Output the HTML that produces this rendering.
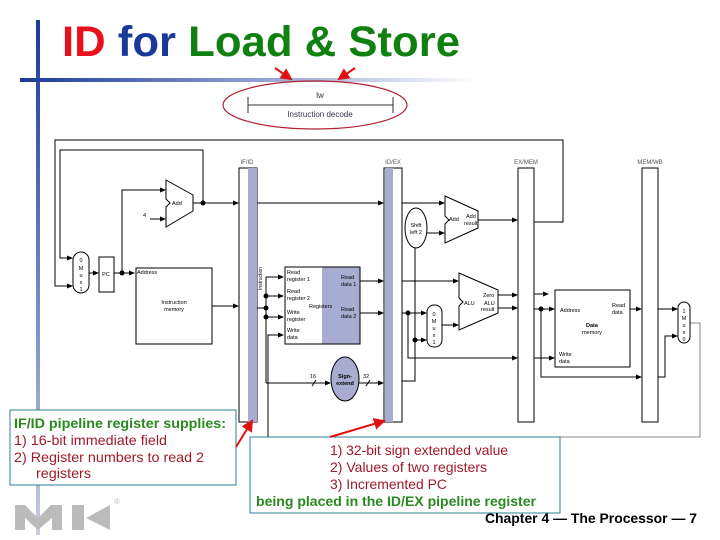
<!DOCTYPE html>
<html><head><meta charset="utf-8"><style>
body{margin:0;background:#fff}
svg{display:block}
.s{font-family:"Liberation Sans",sans-serif}
</style></head><body>
<svg width="720" height="540" viewBox="0 0 720 540" xmlns="http://www.w3.org/2000/svg" class="s">
<defs>
<linearGradient id="hg" x1="0" x2="1"><stop offset="0" stop-color="#1a3a9a"/><stop offset="1" stop-color="#fff"/></linearGradient>
<linearGradient id="vg" x1="0" x2="0" y1="0" y2="1"><stop offset="0" stop-color="#1a3a9a"/><stop offset="1" stop-color="#c8cce0"/></linearGradient>
<marker id="a" markerWidth="6" markerHeight="6" refX="5" refY="3" orient="auto"><path d="M0,0.5 L6,3 L0,5.5z" fill="#000"/></marker>
<marker id="r" markerWidth="6" markerHeight="6" refX="5" refY="3" orient="auto"><path d="M0,0 L6,3 L0,6z" fill="#e01010"/></marker>
</defs>
<rect x="36" y="20" width="4" height="515" fill="url(#vg)"/>
<rect x="20" y="78" width="460" height="4" fill="url(#hg)"/>
<text x="62" y="56" font-size="43" font-weight="bold" textLength="398" lengthAdjust="spacingAndGlyphs"><tspan fill="#e8101a">ID</tspan><tspan fill="#1a3a9a"> for </tspan><tspan fill="#108010">Load &amp; Store</tspan></text>
<ellipse cx="315" cy="105" rx="92" ry="24" fill="none" stroke="#b02030" stroke-width="1.2"/>
<line x1="248" y1="105" x2="393" y2="105" stroke="#333"/>
<line x1="248" y1="97" x2="248" y2="113" stroke="#333"/>
<line x1="393" y1="97" x2="393" y2="113" stroke="#333"/>
<text x="320" y="98" font-size="8" text-anchor="middle" fill="#333">lw</text>
<text x="320" y="117" font-size="8" text-anchor="middle" fill="#335">Instruction decode</text>
<line x1="275" y1="68" x2="291" y2="79" stroke="#e01010" stroke-width="2" marker-end="url(#r)"/>
<line x1="355" y1="68" x2="339" y2="79" stroke="#e01010" stroke-width="2" marker-end="url(#r)"/>

<g stroke="#000" stroke-width="1" fill="none">
<polyline points="534,222 563,222 563,140 55,140 55,286 72,286" marker-end="url(#a)"/>
<polyline points="203,203 203,150 60,150 60,258 72,258" marker-end="url(#a)"/>
<line x1="89" y1="273" x2="98" y2="273" marker-end="url(#a)"/>
<polyline points="114,273 134,273" marker-end="url(#a)"/>
<polyline points="122,273 122,190 165,190" marker-end="url(#a)"/>
<line x1="150" y1="219" x2="165" y2="219" marker-end="url(#a)"/>
<line x1="193" y1="203" x2="238" y2="203" marker-end="url(#a)"/>
<line x1="212" y1="306" x2="238" y2="306" marker-end="url(#a)"/>
<line x1="257" y1="203" x2="383" y2="203" marker-end="url(#a)"/>
<polyline points="257,308 266,308"/>
<line x1="266" y1="277" x2="266" y2="383"/>
<line x1="266" y1="277" x2="283" y2="277" marker-end="url(#a)"/>
<line x1="266" y1="296" x2="283" y2="296" marker-end="url(#a)"/>
<line x1="266" y1="317" x2="283" y2="317" marker-end="url(#a)"/>
<polyline points="268,437 268,335 283,335" marker-end="url(#a)"/>
<line x1="266" y1="383" x2="330" y2="383" marker-end="url(#a)"/>
<line x1="359" y1="383" x2="383" y2="383" marker-end="url(#a)"/>
<line x1="312" y1="386" x2="316" y2="380"/><line x1="366" y1="386" x2="370" y2="380"/>
<line x1="360" y1="281" x2="383" y2="281" marker-end="url(#a)"/>
<line x1="360" y1="313" x2="383" y2="313" marker-end="url(#a)"/>
<line x1="402" y1="203" x2="444" y2="203" marker-end="url(#a)"/>
<line x1="427" y1="233" x2="444" y2="233" marker-end="url(#a)"/>
<line x1="478" y1="220" x2="517" y2="220" marker-end="url(#a)"/>
<line x1="402" y1="281" x2="458" y2="281" marker-end="url(#a)"/>
<line x1="402" y1="313" x2="426" y2="313" marker-end="url(#a)"/>
<polyline points="408,313 408,358 517,358" marker-end="url(#a)"/>
<polyline points="402,381 415,381 415,248"/>
<line x1="415" y1="340" x2="426" y2="340" marker-end="url(#a)"/>
<line x1="442" y1="325" x2="458" y2="325" marker-end="url(#a)"/>
<line x1="498" y1="295" x2="517" y2="295" marker-end="url(#a)"/>
<line x1="498" y1="308" x2="517" y2="308" marker-end="url(#a)"/>
<line x1="534" y1="294" x2="548" y2="294" marker-end="url(#a)"/>
<line x1="534" y1="309" x2="554" y2="309" marker-end="url(#a)"/>
<polyline points="541,309 541,377 641,377" marker-end="url(#a)"/>
<line x1="534" y1="358" x2="554" y2="358" marker-end="url(#a)"/>
<line x1="630" y1="309" x2="641" y2="309" marker-end="url(#a)"/>
<line x1="658" y1="309" x2="677" y2="309" marker-end="url(#a)"/>
<polyline points="658,377 665,377 665,336 677,336" marker-end="url(#a)"/>
<polyline points="690,323 700,323 700,437 268,437" stroke="#888"/>
</g>
<g fill="#000">
<circle cx="203" cy="203" r="2.5"/><circle cx="122" cy="273" r="2.5"/>
<circle cx="266" cy="296" r="2.5"/><circle cx="266" cy="308" r="2.5"/><circle cx="266" cy="317" r="2.5"/>
<circle cx="408" cy="313" r="2.5"/><circle cx="415" cy="340" r="2.5"/><circle cx="541" cy="309" r="2.5"/>
</g>
<g stroke="#000" stroke-width="1">
<rect x="239" y="168" width="18" height="254" fill="#fff"/>
<rect x="248" y="168" width="9" height="254" fill="#a8acd0" stroke="none"/>
<rect x="384" y="168" width="18" height="254" fill="#fff"/>
<rect x="385" y="168" width="8" height="254" fill="#a8acd0" stroke="none"/>
<rect x="518" y="168" width="16" height="254" fill="#fff"/>
<rect x="642" y="168" width="16" height="254" fill="#fff"/>
</g>
<g font-size="6" fill="#555" text-anchor="middle">
<text x="247" y="164">IF/ID</text><text x="393" y="164">ID/EX</text><text x="526" y="164">EX/MEM</text><text x="650" y="164">MEM/WB</text>
</g>
<g stroke="#000" fill="#fff">
<path d="M166,180 L193,195 L193,211 L166,227 L166,207 L170,203 L166,199z"/>
<rect x="73" y="252" width="16" height="41" rx="8"/>
<rect x="99" y="257" width="15" height="35"/>
<rect x="136" y="268" width="76" height="76"/>
<rect x="285" y="267" width="75" height="77"/>
<path d="M445,196 L478,211 L478,228 L445,243 L445,224 L449,220 L445,216z"/>
<ellipse cx="416" cy="228" rx="11" ry="20"/>
<path d="M459,273 L498,290 L498,313 L459,330 L459,306 L463,302 L459,298z"/>
<rect x="427" y="305" width="15" height="42" rx="7"/>
<rect x="555" y="290" width="75" height="77"/>
<rect x="678" y="302" width="12" height="41" rx="6"/>
</g>
<rect x="322" y="267" width="38" height="77" fill="#a8acd0"/>
<rect x="285" y="267" width="75" height="77" fill="none" stroke="#000"/>
<ellipse cx="345" cy="379" rx="14" ry="22" fill="#a8acd0" stroke="#000"/>
<g font-size="5.5" fill="#000">
<text x="172" y="205">Add</text>
<text x="81" y="262" text-anchor="middle">0</text><text x="81" y="270" text-anchor="middle">M</text><text x="81" y="277" text-anchor="middle">u</text><text x="81" y="284" text-anchor="middle">x</text><text x="81" y="291" text-anchor="middle">1</text>
<text x="106" y="276" text-anchor="middle">PC</text>
<text x="143" y="217">4</text>
<text x="137" y="274">Address</text>
<text x="174" y="304" text-anchor="middle">Instruction</text><text x="174" y="311" text-anchor="middle">memory</text>
<text x="262" y="290" transform="rotate(-90 262 290)" font-size="5">Instruction</text>
<text x="287" y="274">Read</text><text x="287" y="281">register 1</text>
<text x="287" y="293">Read</text><text x="287" y="300">register 2</text>
<text x="287" y="314">Write</text><text x="287" y="321">register</text>
<text x="287" y="332">Write</text><text x="287" y="339">data</text>
<text x="309" y="308">Registers</text>
<text x="341" y="279">Read</text><text x="341" y="286">data 1</text>
<text x="341" y="311">Read</text><text x="341" y="318">data 2</text>
<text x="345" y="378" text-anchor="middle" font-weight="bold">Sign-</text><text x="345" y="385" text-anchor="middle" font-weight="bold">extend</text>
<text x="310" y="378">16</text><text x="363" y="378">32</text>
<text x="416" y="227" text-anchor="middle">Shift</text><text x="416" y="234" text-anchor="middle">left 2</text>
<text x="449" y="221">Add</text><text x="466" y="218">Add</text><text x="464" y="225">result</text>
<text x="464" y="305">ALU</text><text x="483" y="297">Zero</text><text x="484" y="305">ALU</text><text x="481" y="311">result</text>
<text x="434" y="316" text-anchor="middle">0</text><text x="434" y="323" text-anchor="middle">M</text><text x="434" y="330" text-anchor="middle">u</text><text x="434" y="337" text-anchor="middle">x</text><text x="434" y="344" text-anchor="middle">1</text>
<text x="560" y="312">Address</text><text x="612" y="307">Read</text><text x="612" y="314">data</text>
<text x="592" y="327" text-anchor="middle" font-weight="bold">Data</text><text x="592" y="334" text-anchor="middle">memory</text>
<text x="559" y="356">Write</text><text x="559" y="363">data</text>
<text x="684" y="313" text-anchor="middle">1</text><text x="684" y="320" text-anchor="middle">M</text><text x="684" y="327" text-anchor="middle">u</text><text x="684" y="334" text-anchor="middle">x</text><text x="684" y="341" text-anchor="middle">0</text>
</g>
<rect x="10" y="410" width="226" height="75" fill="#fff" stroke="#2e7f99"/>
<text x="14" y="428" font-size="14" font-weight="bold" fill="#2a8a20" textLength="212" lengthAdjust="spacingAndGlyphs">IF/ID pipeline register supplies:</text>
<g font-size="14" fill="#a01a2a">
<text x="14" y="445" textLength="153" lengthAdjust="spacingAndGlyphs">1) 16-bit immediate field</text>
<text x="14" y="462" textLength="190" lengthAdjust="spacingAndGlyphs">2) Register numbers to read 2</text>
<text x="36" y="478" textLength="55" lengthAdjust="spacingAndGlyphs">registers</text>
</g>
<rect x="250" y="437" width="310" height="76" fill="#fff" stroke="#2e7f99"/>
<g font-size="14" fill="#a01a2a">
<text x="330" y="455" textLength="178" lengthAdjust="spacingAndGlyphs">1) 32-bit sign extended value</text>
<text x="330" y="472" textLength="157" lengthAdjust="spacingAndGlyphs">2) Values of two registers</text>
<text x="330" y="489" textLength="117" lengthAdjust="spacingAndGlyphs">3) Incremented PC</text>
</g>
<text x="256" y="506" font-size="14" font-weight="bold" fill="#2a8a20" textLength="280" lengthAdjust="spacingAndGlyphs">being placed in the ID/EX pipeline register</text>
<line x1="236" y1="447" x2="252" y2="421" stroke="#e01010" stroke-width="2" marker-end="url(#r)"/>
<line x1="330" y1="437" x2="384" y2="421" stroke="#e01010" stroke-width="2" marker-end="url(#r)"/>
<g fill="#bbb">
<path d="M15,530 L15,505 L25,505 L38,518 L51,505 L62,505 L62,530 L52,530 L52,518 L38,530 L25,518 L25,530z"/>
<rect x="72" y="505" width="12" height="25"/>
<path d="M86,518 L110,505 L110,530z"/>
</g>
<text x="114" y="504" font-size="8" fill="#bbb">®</text>
<text x="485" y="523" font-size="13.5" font-weight="bold" fill="#000" textLength="212" lengthAdjust="spacingAndGlyphs">Chapter 4 — The Processor — 7</text>
</svg>
</body></html>
